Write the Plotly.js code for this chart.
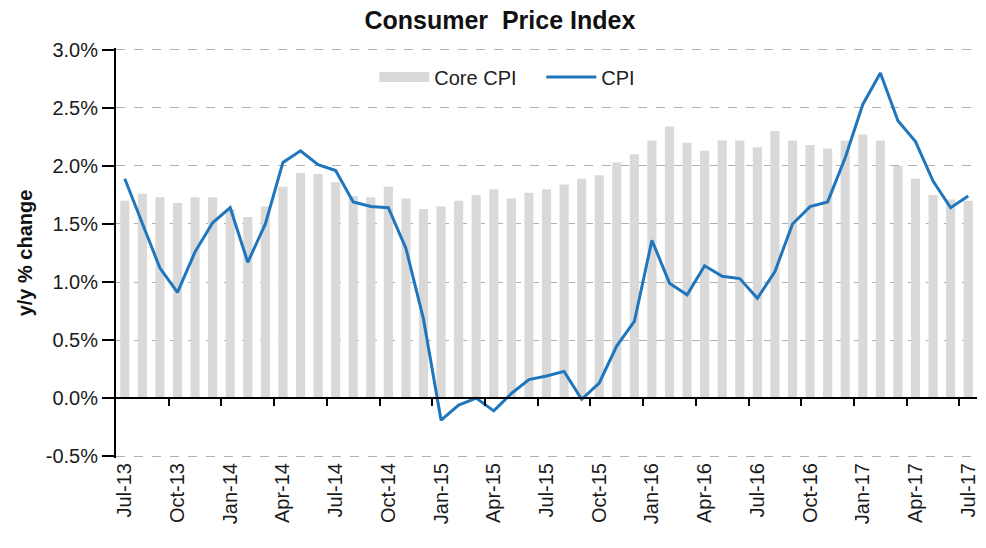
<!DOCTYPE html>
<html><head><meta charset="utf-8">
<script src="https://cdn.plot.ly/plotly-3.0.1.min.js"></script>
<style>html,body{margin:0;padding:0;background:#fff}#chart{width:986px;height:548px}</style>
</head><body><div id="chart"></div>
<script>
const months = ['Jul-13','Aug-13','Sep-13','Oct-13','Nov-13','Dec-13',
  'Jan-14','Feb-14','Mar-14','Apr-14','May-14','Jun-14','Jul-14','Aug-14','Sep-14','Oct-14','Nov-14','Dec-14',
  'Jan-15','Feb-15','Mar-15','Apr-15','May-15','Jun-15','Jul-15','Aug-15','Sep-15','Oct-15','Nov-15','Dec-15',
  'Jan-16','Feb-16','Mar-16','Apr-16','May-16','Jun-16','Jul-16','Aug-16','Sep-16','Oct-16','Nov-16','Dec-16',
  'Jan-17','Feb-17','Mar-17','Apr-17','May-17','Jun-17','Jul-17'];
const coreCPI = [1.70,1.76,1.73,1.68,1.73,1.73,
  1.63,1.56,1.65,1.82,1.94,1.93,1.86,1.74,1.73,1.82,1.72,1.63,
  1.65,1.70,1.75,1.80,1.72,1.77,1.80,1.84,1.89,1.92,2.03,2.10,
  2.22,2.34,2.20,2.13,2.22,2.22,2.16,2.30,2.22,2.18,2.15,2.22,
  2.27,2.22,2.00,1.89,1.75,1.71,1.70];
const cpi = [1.89,1.50,1.12,0.91,1.26,1.51,
  1.64,1.17,1.50,2.03,2.13,2.01,1.96,1.69,1.65,1.64,1.29,0.68,
  -0.19,-0.06,0.00,-0.11,0.04,0.16,0.19,0.23,-0.01,0.13,0.45,0.66,
  1.36,0.99,0.89,1.14,1.05,1.03,0.86,1.09,1.50,1.65,1.69,2.07,
  2.53,2.80,2.39,2.21,1.87,1.64,1.74];
const yTickVals = [-0.5, 0, 0.5, 1.0, 1.5, 2.0, 2.5, 3.0];
const yTickText = yTickVals.map(v => v.toFixed(1) + '%');
const tickLabels = months.filter((m, i) => i % 3 === 0);
const idx = months.map((m, i) => i);
const boundaryTicks = idx.filter(i => i > 0 && i % 3 === 0).map(i => i - 0.5);
const yMin = -0.5, yMax = 3.0, eps = 0.016;
const zeroPos = (0 - (yMin - eps)) / ((yMax + eps) - (yMin - eps));
const FONT = 'Liberation Sans, Arial, sans-serif';

const traces = [
  {type:'bar', x: months, y: coreCPI, name:'Core CPI', marker:{color:'#d9d9d9'}, showlegend:false},
  {type:'scatter', mode:'lines', x:[null], y:[null], name:'Core CPI', line:{color:'#d9d9d9', width:14}, showlegend:true},
  {type:'scatter', mode:'lines', x: idx, y: cpi, xaxis:'x2', name:'CPI', line:{color:'#1f76bd', width:3}}
];

const layout = {
  width:986, height:548,
  margin:{l:116, r:9, t:48, b:90},
  paper_bgcolor:'#fff', plot_bgcolor:'#fff',
  font:{family:FONT, color:'#1a1a1a'},
  title:{text:'<b>Consumer\u00a0 Price Index</b>', x:0.507, xanchor:'center', y:0.963, yanchor:'middle',
         font:{size:25, color:'#111', family:FONT}},
  bargap:0.48,
  showlegend:true,
  legend:{orientation:'h', x:0.30, xanchor:'left', y:0.929, yanchor:'middle', itemwidth:50,
          entrywidth:102, entrywidthmode:'pixels',
          bgcolor:'rgba(0,0,0,0)', font:{size:20, color:'#222'}, traceorder:'normal'},
  xaxis:{type:'category', range:[-0.5, months.length - 0.5], tickmode:'array',
         tickvals: tickLabels, ticktext: tickLabels, tickangle:-90,
         showgrid:false, showline:false, zeroline:false, ticks:'',
         tickfont:{size:20, color:'#1a1a1a'}},
  xaxis2:{overlaying:'x', anchor:'free', position: zeroPos, side:'bottom', type:'linear',
          range:[-0.5, months.length - 0.5], tickmode:'array', tickvals: boundaryTicks,
          showticklabels:false, ticks:'outside', ticklen:7, tickwidth:2, tickcolor:'#000',
          showline:true, linecolor:'#000', linewidth:2, showgrid:false, zeroline:false},
  yaxis:{range:[yMin - eps, yMax + eps], tickmode:'array', tickvals: yTickVals, ticktext: yTickText,
         showgrid:true, gridcolor:'#b0b0b0', griddash:'dash', gridwidth:1,
         zeroline:false, showline:true, linecolor:'#000', linewidth:2,
         ticks:'outside', ticklen:12, tickwidth:2, tickcolor:'#000',
         tickfont:{size:20, color:'#1a1a1a'},
         title:{text:'<b>y/y % change</b>', font:{size:20, color:'#111'}, standoff:8}}
};

Plotly.newPlot('chart', traces, layout, {displayModeBar:false, staticPlot:true});
</script>
</body></html>
